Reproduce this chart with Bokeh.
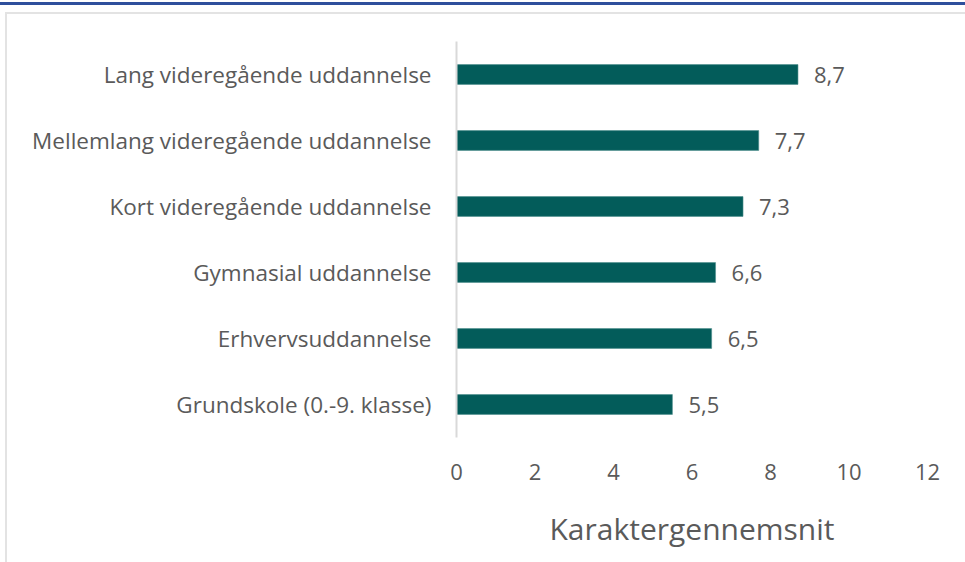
from bokeh.plotting import figure
from bokeh.models import ColumnDataSource, FactorRange, Range1d, LabelSet, FixedTicker, Div
from bokeh.layouts import column, row
from bokeh.core.properties import value
from bokeh.embed import file_html
from bokeh.resources import INLINE

categories = [
    "Lang videregående uddannelse",
    "Mellemlang videregående uddannelse",
    "Kort videregående uddannelse",
    "Gymnasial uddannelse",
    "Erhvervsuddannelse",
    "Grundskole (0.-9. klasse)",
]
values = [8.7, 7.7, 7.3, 6.6, 6.5, 5.5]
x_ticks = [0, 2, 4, 6, 8, 10, 12]
axis_title = "Karaktergennemsnit"

FONT = "Open Sans"
TXT = "#5a5a5a"
GRAY = "#e3e3e3"

labels = [f"{v:.1f}".replace(".", ",") for v in values]
src = ColumnDataSource(dict(cat=categories, val=values, lab=labels))

p = figure(
    width=958, height=548,
    y_range=FactorRange(factors=list(reversed(categories)), range_padding=0),
    x_range=Range1d(0, 12),
    output_backend="svg", toolbar_location=None,
    min_border_left=449, min_border_right=38, min_border_top=27, min_border_bottom=125,
)
p.frame_width = 471
p.frame_height = 396
p.outline_line_color = None
p.background_fill_color = "white"
p.border_fill_color = "white"
p.grid.grid_line_color = None

p.hbar(y="cat", right="val", left=0, height=0.3, source=src,
       fill_color="#035C5A", line_color="#4f8f8d", line_width=0.6)

p.add_layout(LabelSet(x="val", y="cat", text="lab", source=src, x_offset=16,
                      text_baseline="middle", text_align="left",
                      text_font=value(FONT), text_font_size="22px", text_color=TXT))

# axes
p.xaxis.ticker = FixedTicker(ticks=x_ticks)
p.xaxis.axis_line_color = None
p.xaxis.major_tick_line_color = None
p.xaxis.minor_tick_line_color = None
p.xaxis.major_label_text_font = FONT
p.xaxis.major_label_text_font_size = "22px"
p.xaxis.major_label_text_color = TXT
p.xaxis.major_label_standoff = 20
p.xaxis.axis_label = axis_title
p.xaxis.axis_label_text_font = FONT
p.xaxis.axis_label_text_font_size = "30px"
p.xaxis.axis_label_text_font_style = "normal"
p.xaxis.axis_label_text_color = TXT
p.xaxis.axis_label_standoff = 25

p.yaxis.axis_line_color = "#d9d9d9"
p.yaxis.axis_line_width = 2
p.yaxis.major_tick_line_color = None
p.yaxis.minor_tick_line_color = None
p.yaxis.major_label_text_font = FONT
p.yaxis.major_label_text_font_size = "22.5px"
p.yaxis.major_label_text_color = TXT
p.yaxis.major_label_standoff = 19

# page decoration: blue top rule and light gray frame
blue = Div(text="", width=965, height=3, margin=(2, 0, 0, 0),
           styles={"background-color": "#2F4F9C"})
vline = Div(text="", width=2, height=550, margin=(7, 0, 0, 5),
            styles={"background-color": GRAY})
hline = Div(text="", width=958, height=2, margin=(7, 0, 0, 0),
            styles={"background-color": GRAY})
layout = column(blue, row(vline, column(hline, p, spacing=0), spacing=0), spacing=0)

open("out.html", "w").write(file_html(layout, INLINE))
